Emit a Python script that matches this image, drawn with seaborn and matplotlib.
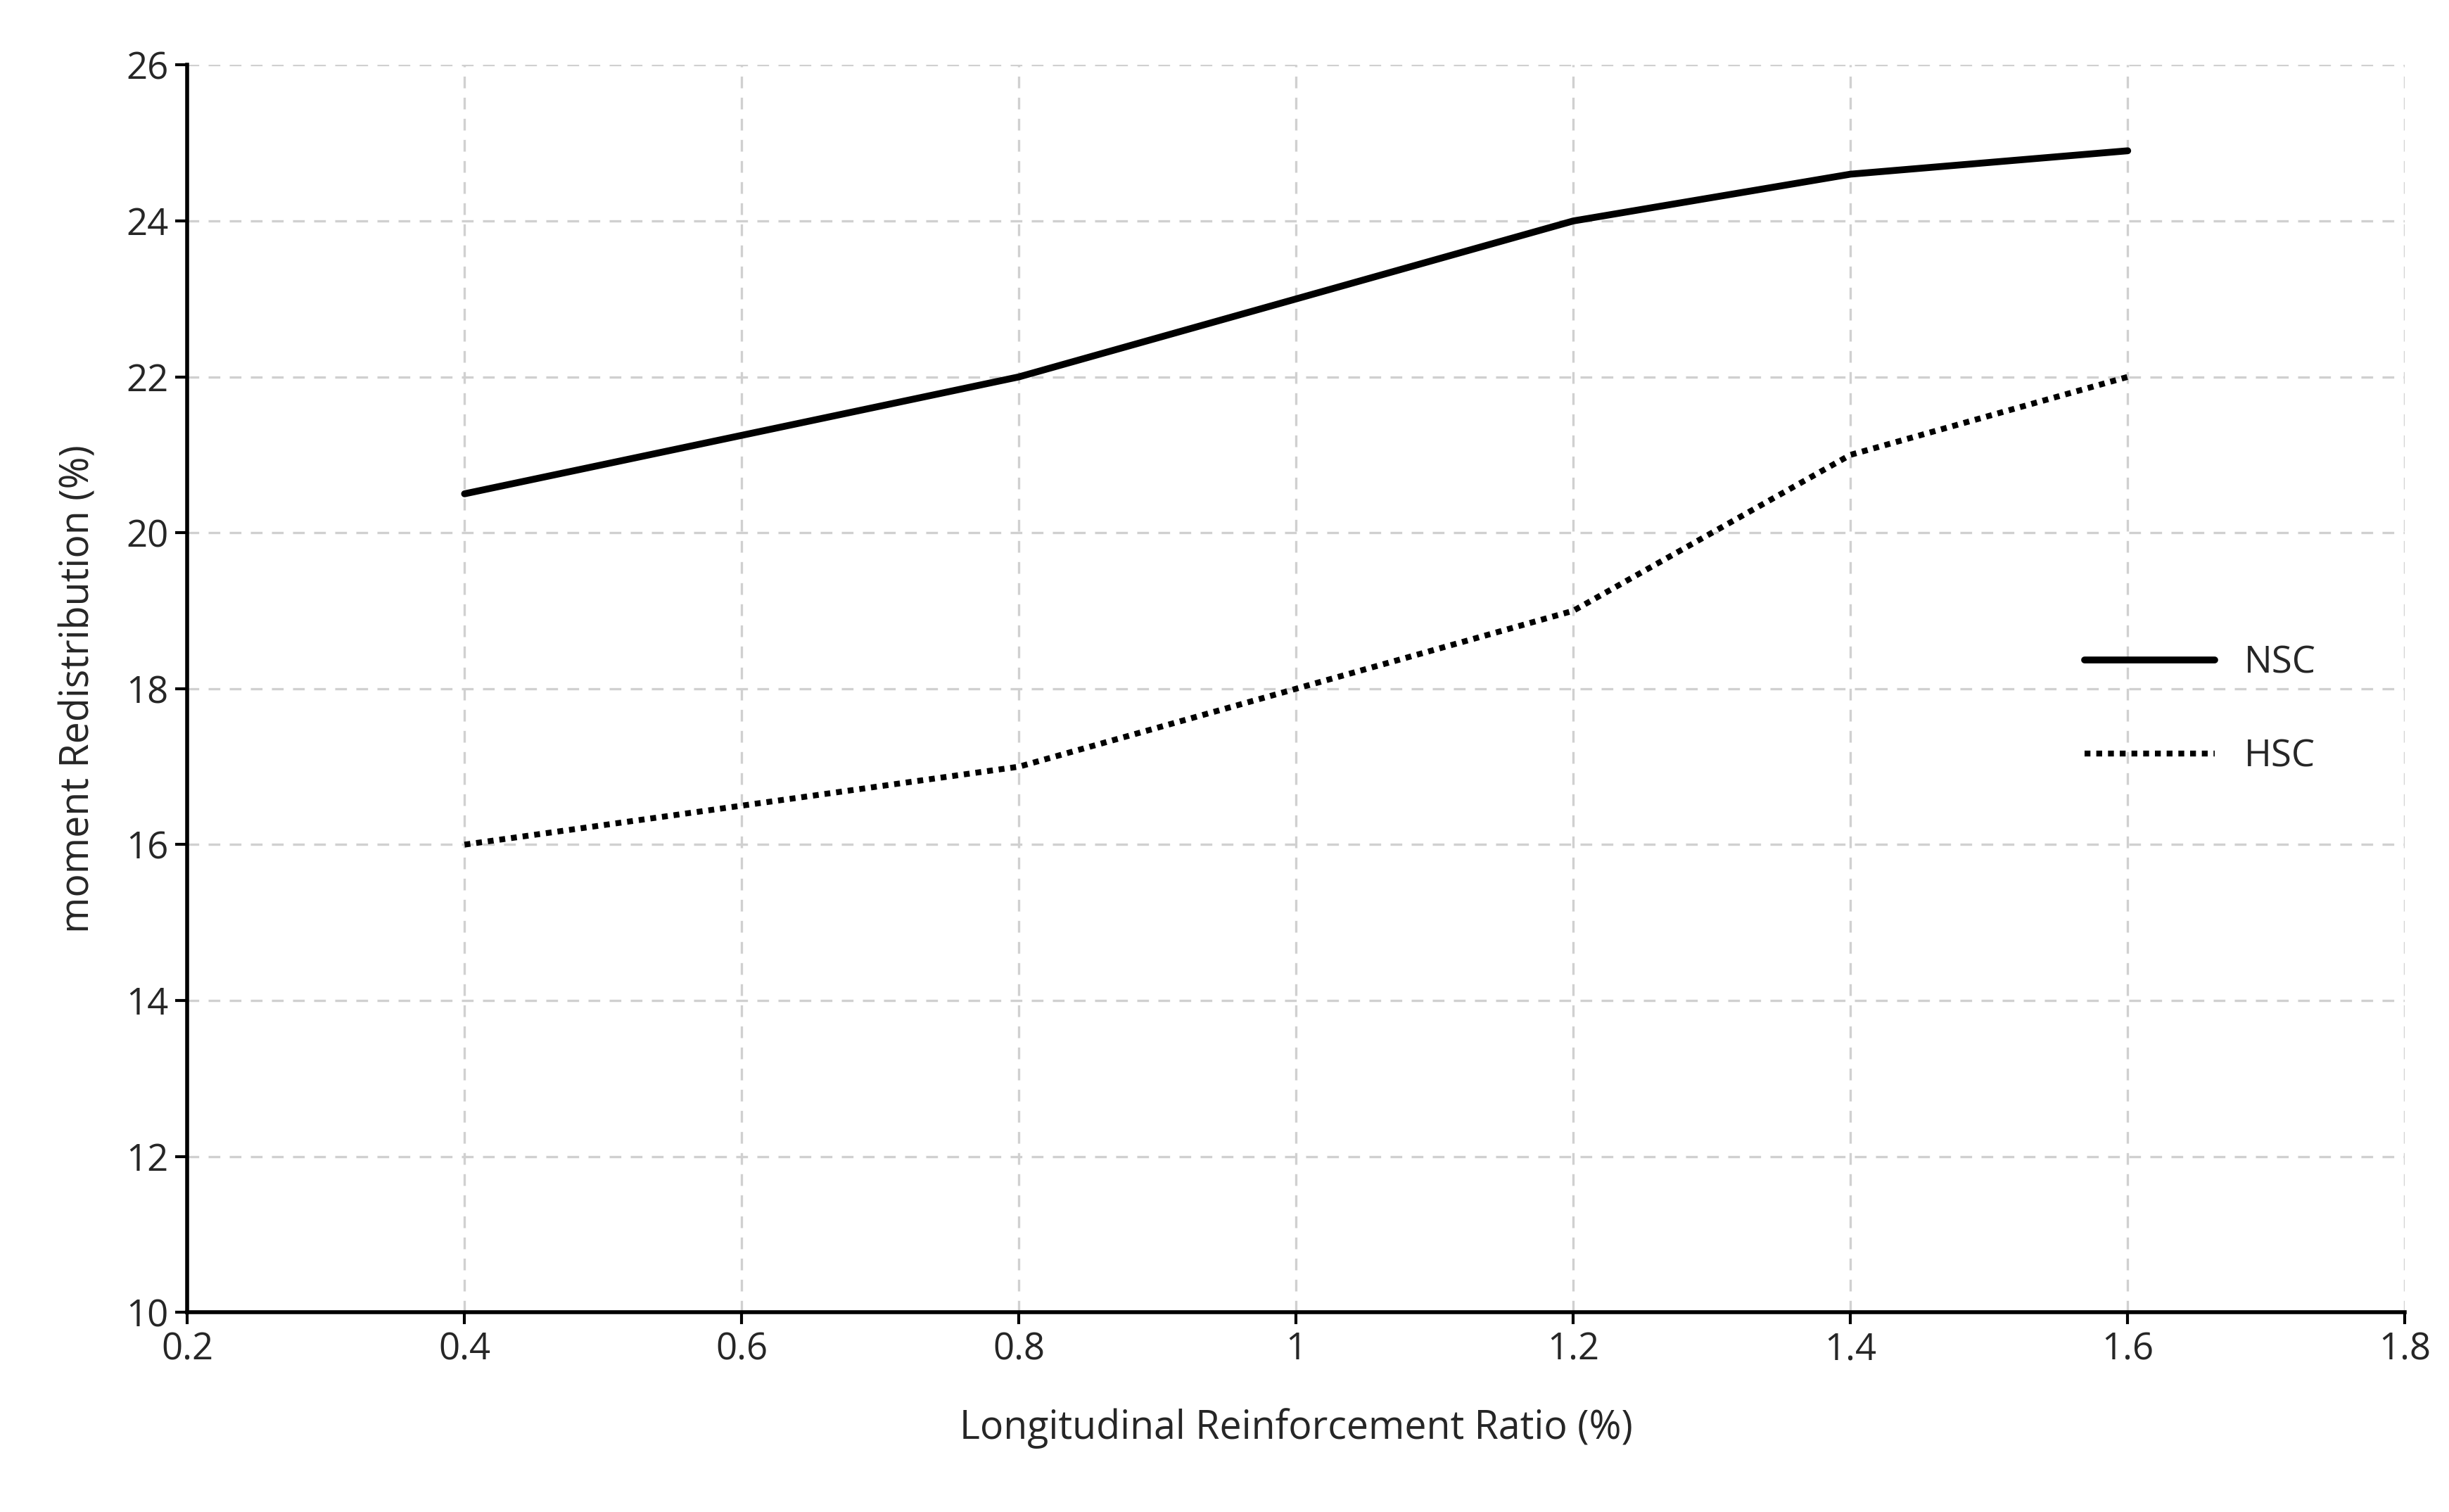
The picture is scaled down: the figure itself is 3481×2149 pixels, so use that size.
import matplotlib
matplotlib.use("Agg")
import matplotlib.pyplot as plt
import seaborn as sns
import pandas as pd

ratio = [0.4, 0.6, 0.8, 1.0, 1.2, 1.4, 1.6]
nsc = [20.5, 21.25, 22.0, 23.0, 24.0, 24.6, 24.9]
hsc = [16.0, 16.5, 17.0, 18.0, 19.0, 21.0, 22.0]

sns.set_theme(style="white")
plt.rcParams['font.family'] = ['Open Sans', 'DejaVu Sans']

fig = plt.figure(figsize=(17.405, 10.745), dpi=200)
ax = fig.add_axes([0.0765, 0.132, 0.9055, 0.825])

df = pd.DataFrame({"x": ratio, "NSC": nsc, "HSC": hsc})
sns.lineplot(data=df, x="x", y="NSC", ax=ax, color="black", lw=3.5, label="NSC")
sns.lineplot(data=df, x="x", y="HSC", ax=ax, color="black", lw=3, ls=(0, (1, 1)), label="HSC")

ax.set_xlim(0.2, 1.8)
ax.set_ylim(10, 26)
ax.set_xticks([0.2, 0.4, 0.6, 0.8, 1.0, 1.2, 1.4, 1.6, 1.8])
ax.set_xticklabels(["0.2", "0.4", "0.6", "0.8", "1", "1.2", "1.4", "1.6", "1.8"])
ax.set_yticks(range(10, 27, 2))
ax.grid(True, color="#d0d0d0", ls=(0, (5, 4)), lw=1.2)
for s in ["top", "right"]:
    ax.spines[s].set_visible(False)
for s in ["left", "bottom"]:
    ax.spines[s].set_color("black")
    ax.spines[s].set_linewidth(2)
ax.tick_params(axis="both", labelsize=19, length=6, width=1.5, color="black", direction="out", left=True, bottom=True)
ax.set_xlabel("Longitudinal Reinforcement Ratio (%)", fontsize=20, labelpad=20)
ax.set_ylabel("moment Redistribution (%)", fontsize=20, labelpad=14)
ax.legend(loc="center right", bbox_to_anchor=(0.975, 0.483), frameon=False, fontsize=19,
          handlelength=3.5, labelspacing=1.5)
fig.savefig("out.png", dpi=200, facecolor="white")
